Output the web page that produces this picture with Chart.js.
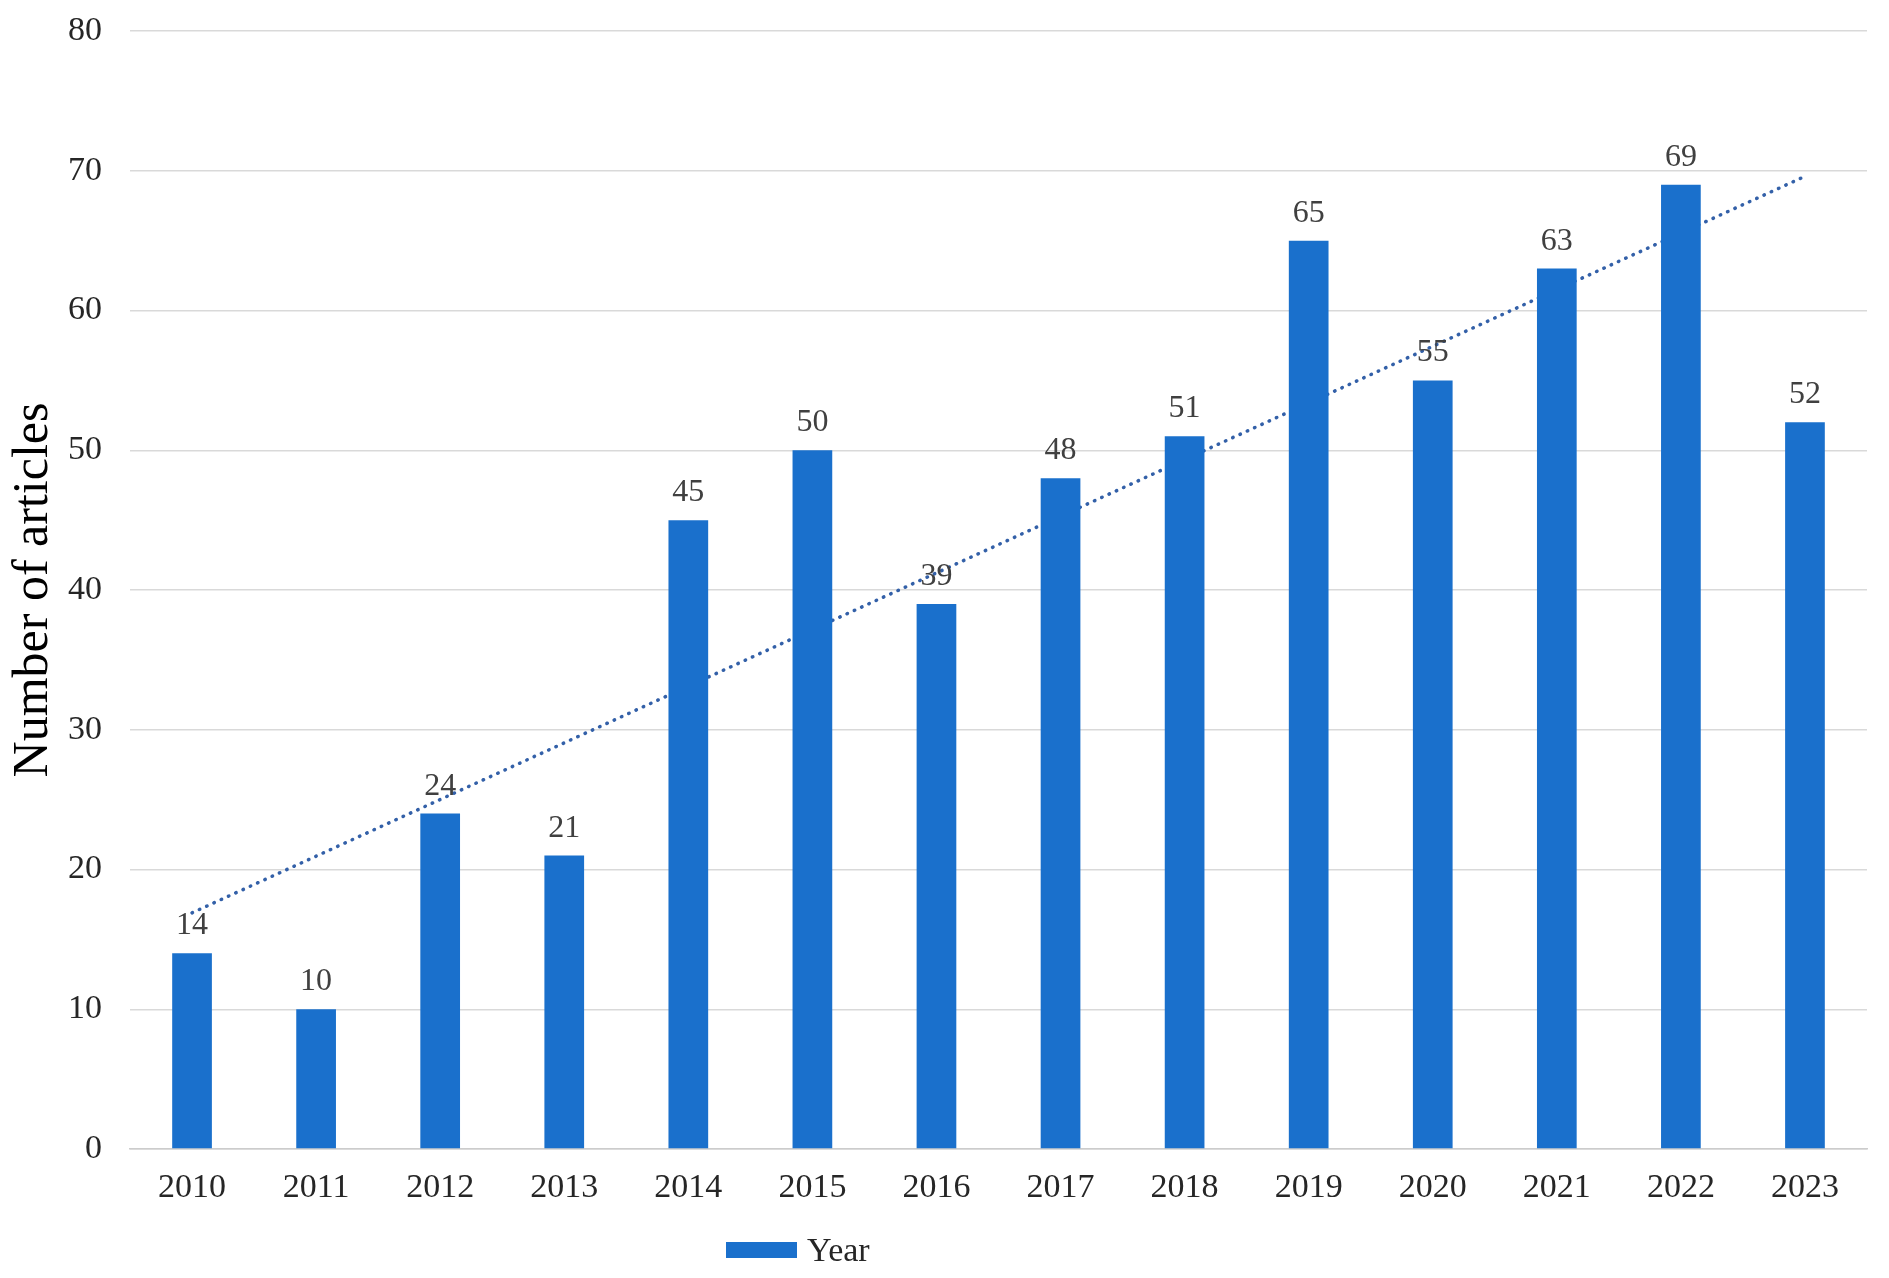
<!DOCTYPE html>
<html>
<head>
<meta charset="utf-8">
<script src="https://cdn.jsdelivr.net/npm/chart.js@4"></script>
<style>
    html, body { margin: 0; padding: 0; background: #ffffff; }
    .wrap { position: relative; width: 1889px; height: 1278px; }
    .legend {
        position: absolute;
        left: 726px;
        top: 1230px;
        height: 40px;
        display: flex;
        align-items: center;
        font-family: "Liberation Serif", "Times New Roman", serif;
        font-size: 34px;
        color: #262626;
    }
    .legend .swatch {
        width: 71px;
        height: 16px;
        background: #1a70cc;
        margin-right: 10px;
    }
</style>
</head>
<body>
<div class="wrap">
    <canvas id="chart" width="1889" height="1278"></canvas>
    <div class="legend"><span class="swatch"></span><span>Year</span></div>
</div>
<script>
// Chart data
const years = ['2010', '2011', '2012', '2013', '2014', '2015', '2016',
               '2017', '2018', '2019', '2020', '2021', '2022', '2023'];
const articles = [14, 10, 24, 21, 45, 50, 39, 48, 51, 65, 55, 63, 69, 52];

// Trend line end points
const trendYears = ['2010', '2023'];
const trendValues = [16.9, 69.6];

const yTicks = [0, 10, 20, 30, 40, 50, 60, 70, 80];

const fontFamily = '"Liberation Serif", "Times New Roman", serif';
const barColor = '#1a70cc';
const textColor = '#262626';

// Draws the value above every bar
const barValueLabels = {
    id: 'barValueLabels',
    afterDatasetsDraw(chart) {
        const meta = chart.getDatasetMeta(0);
        const ctx = chart.ctx;
        ctx.save();
        ctx.font = '32px ' + fontFamily;
        ctx.fillStyle = '#404040';
        ctx.textAlign = 'center';
        ctx.textBaseline = 'alphabetic';
        meta.data.forEach((bar, i) => {
            ctx.fillText(String(articles[i]), bar.x, bar.y - 19);
        });
        ctx.restore();
    }
};

const ctx = document.getElementById('chart');

new Chart(ctx, {
    type: 'bar',
    data: {
        labels: years,
        datasets: [{
            label: 'Year',
            data: articles,
            backgroundColor: barColor,
            borderWidth: 0,
            categoryPercentage: 1,
            barPercentage: 0.32,
            order: 0
        }, {
            type: 'line',
            label: 'Linear (Year)',
            data: trendYears.map((y, i) => ({ x: y, y: trendValues[i] })),
            borderColor: '#3360a8',
            borderWidth: 3.5,
            borderDash: [0.5, 7.5],
            borderCapStyle: 'round',
            pointRadius: 0,
            fill: false,
            tension: 0,
            order: 1
        }]
    },
    options: {
        responsive: false,
        animation: false,
        layout: {
            padding: { top: 31, right: 22, bottom: 0, left: 0 }
        },
        plugins: {
            legend: { display: false },
            tooltip: { enabled: false }
        },
        scales: {
            x: {
                grid: { display: false, drawTicks: false },
                border: { display: true, color: '#cccccc', width: 1.5 },
                ticks: {
                    color: textColor,
                    font: { family: fontFamily, size: 34 },
                    padding: 19,
                    maxRotation: 0
                },
                afterFit(scale) {
                    scale.height = 129;
                    scale.paddingLeft = 0;
                    scale.paddingRight = 0;
                }
            },
            y: {
                min: 0,
                max: 80,
                afterBuildTicks(scale) {
                    scale.ticks = yTicks.map(v => ({ value: v }));
                },
                grid: {
                    color: '#d9d9d9',
                    lineWidth: 1.5,
                    drawTicks: false
                },
                border: { display: false },
                ticks: {
                    color: textColor,
                    font: { family: fontFamily, size: 34 },
                    padding: 28
                },
                title: {
                    display: true,
                    text: 'Number of articles',
                    color: '#000000',
                    font: { family: fontFamily, size: 50 },
                    padding: { top: 4, bottom: 0 }
                },
                afterFit(scale) {
                    scale.width = 130;
                    scale.paddingTop = 0;
                    scale.paddingBottom = 0;
                }
            }
        }
    },
    plugins: [barValueLabels]
});
</script>
</body>
</html>
